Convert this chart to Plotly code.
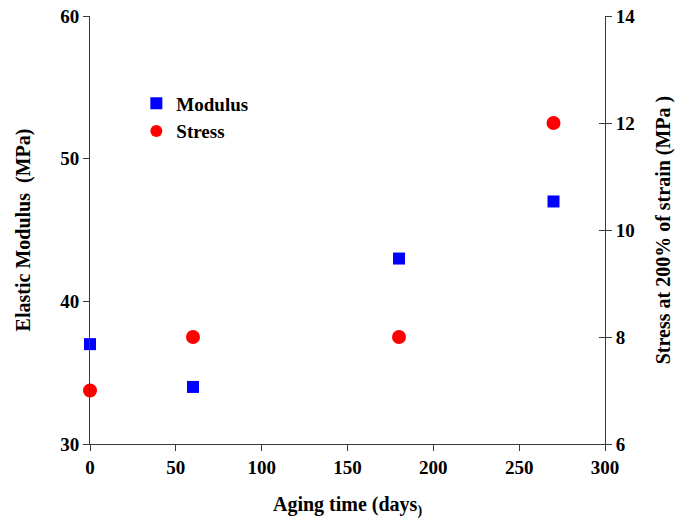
import plotly.graph_objects as go

aging_days = [0, 60, 180, 270]
modulus = [37, 34, 43, 47]
stress = [7, 8, 8, 12]

x_ticks = [0, 50, 100, 150, 200, 250, 300]
left_ticks = [30, 40, 50, 60]
right_ticks = [6, 8, 10, 12, 14]

FONT = "Liberation Serif"
AX = "#3a3a3a"
TICKF = dict(family=FONT, size=19, color="black")
TITLEF = dict(family=FONT, size=20, color="black")

fig = go.Figure()
fig.add_trace(go.Scatter(x=aging_days, y=modulus, mode="markers", name="<b>Modulus</b>",
                         marker=dict(symbol="square", size=12, color="#0000FF"),
                         cliponaxis=False))
fig.add_trace(go.Scatter(x=aging_days, y=stress, mode="markers", name="<b>Stress</b>",
                         marker=dict(symbol="circle", size=14, color="#FF0000"),
                         yaxis="y2", cliponaxis=False))

fig.update_layout(
    width=675, height=522,
    margin=dict(l=90, r=70, t=16, b=78, autoexpand=False),
    plot_bgcolor="white", paper_bgcolor="white",
    font=dict(family=FONT, size=19, color="black"),
    showlegend=True,
    legend=dict(x=0.09, y=0.84, xanchor="left", yanchor="top",
                bgcolor="rgba(0,0,0,0)", font=dict(family=FONT, size=19),
                itemwidth=30, itemsizing="constant", tracegroupgap=0),
    xaxis=dict(range=[0, 300], tickvals=x_ticks, ticktext=[f"<b>{v}</b>" for v in x_ticks],
               showgrid=False, zeroline=False, showline=True, linecolor=AX, linewidth=1,
               ticks="outside", ticklen=6, tickcolor=AX, tickfont=TICKF, automargin=False,
               ticklabeloverflow="allow",
               title=dict(text="<b>Aging time (days<sub>)</sub></b>", font=TITLEF, standoff=20)),
    yaxis=dict(range=[30, 60], tickvals=left_ticks, ticktext=[f"<b>{v}</b>" for v in left_ticks],
               showgrid=False, zeroline=False, showline=True, linecolor=AX, linewidth=1,
               ticks="outside", ticklen=6, tickcolor=AX, tickfont=TICKF, automargin=False,
               ticklabeloverflow="allow",
               title=dict(text="<b>Elastic Modulus  (MPa)</b>", font=TITLEF, standoff=24)),
    yaxis2=dict(range=[6, 14], tickvals=right_ticks, ticktext=[f"<b>{v}</b>" for v in right_ticks],
                overlaying="y", side="right", anchor="x",
                showgrid=False, zeroline=False, showline=True, linecolor=AX, linewidth=1,
                ticks="outside", ticklen=6, tickcolor=AX, tickfont=TICKF, automargin=False,
                ticklabeloverflow="allow",
                title=dict(text="<b>Stress at 200% of strain (MPa )</b>", font=TITLEF, standoff=21)),
    yaxis3=dict(range=[6, 14], tickvals=right_ticks, showticklabels=False,
                overlaying="y", side="right", anchor="x", automargin=False,
                showgrid=False, zeroline=False, showline=False,
                ticks="inside", ticklen=6, tickcolor=AX),
)
fig.add_trace(go.Scatter(x=[None], y=[None], yaxis="y3", showlegend=False, hoverinfo="skip"))

# remove the default 8px page margin so the figure fills the window exactly
fig.write_html("out.html",
               config={"displayModeBar": False},
               post_script="document.body.style.margin='0';document.body.style.overflow='hidden';")
